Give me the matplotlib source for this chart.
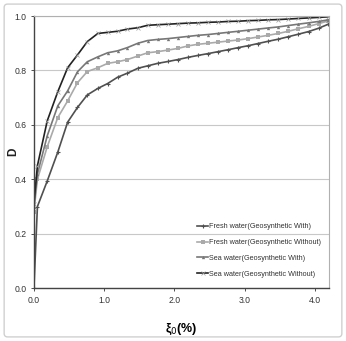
import matplotlib
matplotlib.use("Agg")
import matplotlib.pyplot as plt
from matplotlib.patches import FancyBboxPatch

# strain amplitude (%) at which D was read
xi = [0.0, 0.05, 0.19, 0.34, 0.48, 0.62, 0.76, 0.91, 1.05, 1.19, 1.33, 1.48,
      1.62, 1.76, 1.91, 2.05, 2.19, 2.33, 2.48, 2.62, 2.76, 2.91, 3.05, 3.19,
      3.33, 3.48, 3.62, 3.76, 3.91, 4.05, 4.19]

fresh_with = [0.0, 0.30, 0.394, 0.50, 0.61, 0.664, 0.71, 0.734, 0.752, 0.775, 0.79, 0.808,
              0.817, 0.826, 0.833, 0.840, 0.848, 0.855, 0.862, 0.869, 0.876, 0.884, 0.891, 0.899,
              0.907, 0.915, 0.924, 0.933, 0.943, 0.955, 0.970]
fresh_without = [0.28, 0.40, 0.52, 0.627, 0.688, 0.755, 0.796, 0.81, 0.826, 0.832, 0.84, 0.853,
                 0.865, 0.869, 0.875, 0.881, 0.89, 0.896, 0.90, 0.904, 0.908, 0.912, 0.917, 0.923,
                 0.929, 0.936, 0.944, 0.953, 0.962, 0.972, 0.982]
sea_with = [0.30, 0.42, 0.56, 0.67, 0.725, 0.795, 0.832, 0.85, 0.865, 0.872, 0.884, 0.90,
            0.91, 0.914, 0.917, 0.921, 0.925, 0.929, 0.932, 0.936, 0.940, 0.944, 0.948, 0.952,
            0.956, 0.960, 0.965, 0.970, 0.975, 0.980, 0.986]
sea_without = [0.31, 0.45, 0.615, 0.722, 0.81, 0.857, 0.906, 0.936, 0.94, 0.944, 0.952, 0.957,
               0.966, 0.968, 0.970, 0.972, 0.974, 0.975, 0.977, 0.978, 0.980, 0.981, 0.983, 0.984,
               0.986, 0.987, 0.989, 0.991, 0.993, 0.995, 0.997]

labels = ["Fresh water(Geosynthetic With)", "Fresh water(Geosynthetic Without)",
          "Sea water(Geosynthetic With)", "Sea water(Geosynthetic Without)"]

plt.rcParams["font.family"] = ["Liberation Sans Narrow", "Liberation Sans", "DejaVu Sans"]

fig = plt.figure(figsize=(3.46, 3.41), dpi=100)
fig.patches.append(FancyBboxPatch((0.012, 0.012), 0.976, 0.976, boxstyle="round,pad=0,rounding_size=0.01",
                                  transform=fig.transFigure, fill=False, edgecolor="#d0d0d0", lw=1.0))
ax = fig.add_axes([0.098, 0.155, 0.853, 0.798])

ax.plot(xi, fresh_with, color="#505050", lw=1.2, marker="+", ms=3.5, mew=0.8, label=labels[0])
ax.plot(xi, fresh_without, color="#aaaaaa", lw=1.2, marker="s", ms=2.6, mew=0, label=labels[1])
ax.plot(xi, sea_with, color="#777777", lw=1.2, marker="^", ms=2.4, mew=0, label=labels[2])
ax.plot(xi, sea_without, color="#222222", lw=1.2, marker="x", ms=2.6, mew=0.5,
        markeredgecolor="#999999", label=labels[3])

ax.set_xlim(0, 4.2)
ax.set_ylim(0, 1.0)
ax.set_xticks([0, 1, 2, 3, 4])
ax.set_xticklabels(["0.0", "1.0", "2.0", "3.0", "4.0"])
ax.set_yticks([0, 0.2, 0.4, 0.6, 0.8, 1.0])
ax.set_yticklabels(["0.0", "0.2", "0.4", "0.6", "0.8", "1.0"])
ax.tick_params(labelsize=6.2, colors="#333333", length=2, width=0.6)
ax.yaxis.grid(True, color="#c8c8c8", lw=0.8)
ax.set_axisbelow(True)
for s in ["top", "right"]:
    ax.spines[s].set_color("#b0b0b0")
for s in ["left", "bottom"]:
    ax.spines[s].set_color("#444444")
    ax.spines[s].set_linewidth(1.0)

fig.text(13 / 346, 1 - 152 / 341, "D", rotation=90, fontsize=8.5, fontweight="bold",
         ha="center", va="center", color="#222222")
ax.set_xlabel("ξ$_0$(%)", fontsize=9, fontweight="bold", labelpad=12)

ax.legend(loc="lower right", bbox_to_anchor=(0.99, 0.02), frameon=False, fontsize=5.2,
          handlelength=1.4, handletextpad=0.2, labelspacing=1.2, borderaxespad=0.3,
          labelcolor="#333333")

fig.savefig("out.png", dpi=100)
